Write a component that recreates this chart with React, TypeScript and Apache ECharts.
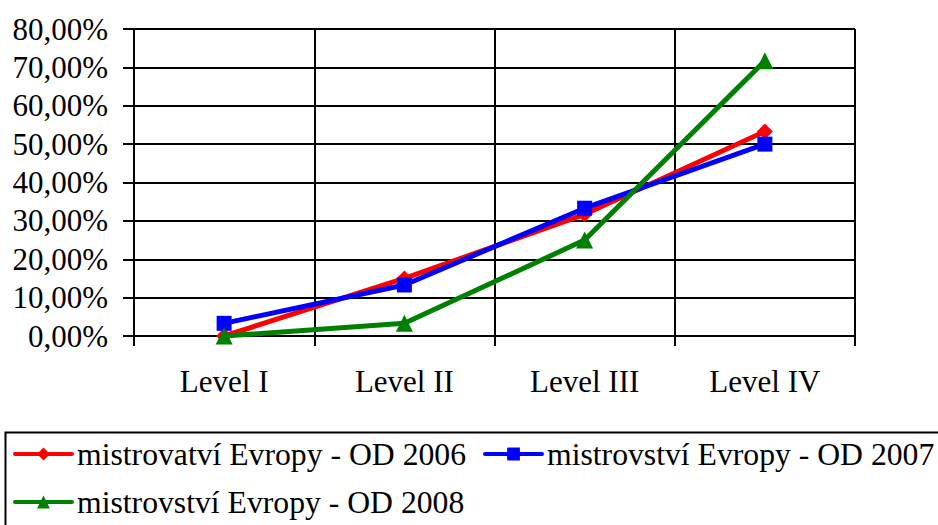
import React, { useEffect, useRef } from "react";
import * as echarts from "echarts";

const categories = ["Level I", "Level II", "Level III", "Level IV"];
const seriesNames = [
  "mistrovatví Evropy - OD 2006",
  "mistrovství Evropy - OD 2007",
  "mistrovství Evropy - OD 2008",
];
const values2006 = [0, 15.0, 31.7, 53.3];
const values2007 = [3.3, 13.3, 33.3, 50.0];
const values2008 = [0, 3.3, 25.0, 71.7];
const yMin = 0;
const yMax = 80;
const yStep = 10;

const FONT = "Liberation Serif";

export default function App() {
  const ref = useRef<HTMLDivElement>(null);
  useEffect(() => {
    if (!ref.current) return;
    const chart = echarts.init(ref.current, null, { renderer: "svg" });
    const axisLine = { show: true, lineStyle: { color: "#000", width: 2 } };
    const mkLegend = (name: string, left: number, top: number) => ({
      data: [name],
      left,
      top,
      itemWidth: 57,
      itemHeight: 16,
      itemGap: 0,
      padding: 0,
      lineStyle: { width: 4, cap: "round" },
      textStyle: { fontFamily: FONT, fontSize: 31.7, color: "#000", padding: [0, 0, 0, 0] },
    });
    chart.setOption({
      animation: false,
      backgroundColor: "#fff",
      textStyle: { fontFamily: FONT },
      grid: { left: 134, right: 83, top: 29, bottom: 189, containLabel: false },
      graphic: [
        {
          type: "rect",
          left: 3,
          top: 430,
          shape: { x: 0, y: 0, width: 1000, height: 200 },
          style: { fill: "none", stroke: "#000", lineWidth: 2 },
          z: 10,
        },
      ],
      legend: [
        mkLegend(seriesNames[0], 13, 438),
        mkLegend(seriesNames[1], 483, 438),
        mkLegend(seriesNames[2], 13, 486),
      ],
      xAxis: {
        type: "category",
        data: categories,
        boundaryGap: true,
        axisLine,
        axisTick: { show: true, length: 10, lineStyle: { color: "#000", width: 2 } },
        splitLine: { show: true, lineStyle: { color: "#000", width: 2 } },
        axisLabel: { fontFamily: FONT, fontSize: 31, color: "#000", margin: 30 },
      },
      yAxis: {
        type: "value",
        min: yMin,
        max: yMax,
        interval: yStep,
        axisLine,
        axisTick: { show: true, length: 11, lineStyle: { color: "#000", width: 2 } },
        splitLine: { show: true, lineStyle: { color: "#000", width: 2 } },
        axisLabel: {
          fontFamily: FONT,
          fontSize: 31,
          color: "#000",
          margin: 26,
          formatter: (v: number) => `${v.toFixed(2).replace(".", ",")}%`,
        },
      },
      series: [
        {
          name: seriesNames[0],
          type: "line",
          data: values2006,
          symbol: "diamond",
          symbolSize: 16,
          color: "#ff0000",
          lineStyle: { width: 5, color: "#ff0000" },
          itemStyle: { color: "#ff0000" },
          z: 3,
        },
        {
          name: seriesNames[1],
          type: "line",
          data: values2007,
          symbol: "rect",
          symbolSize: 15,
          color: "#0000ff",
          lineStyle: { width: 5, color: "#0000ff" },
          itemStyle: { color: "#0000ff" },
          z: 4,
        },
        {
          name: seriesNames[2],
          type: "line",
          data: values2008,
          symbol: "triangle",
          symbolSize: 17,
          color: "#008000",
          lineStyle: { width: 5, color: "#008000" },
          itemStyle: { color: "#008000" },
          z: 5,
        },
      ],
    });
    return () => chart.dispose();
  }, []);
  return (
    <div
      ref={ref}
      style={{ position: "fixed", left: 0, top: 0, width: 938, height: 525 }}
    />
  );
}
